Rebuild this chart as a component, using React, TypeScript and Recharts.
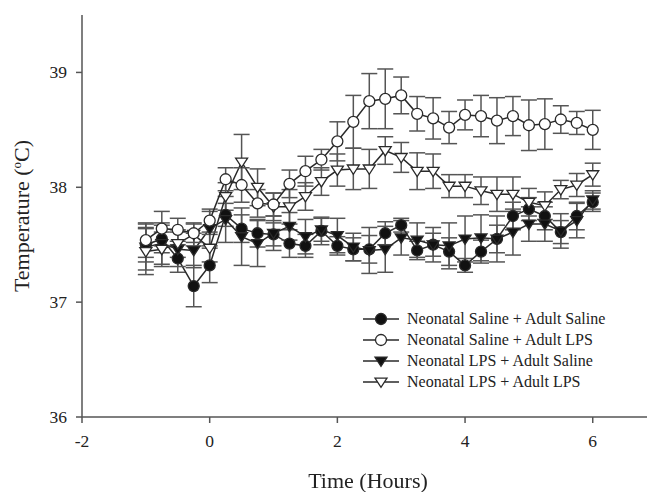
import React from 'react';
import { LineChart, Line, XAxis, YAxis, ErrorBar } from 'recharts';

const times = [-1, -0.75, -0.5, -0.25, 0, 0.25, 0.5, 0.75, 1, 1.25, 1.5, 1.75, 2, 2.25, 2.5, 2.75, 3, 3.25, 3.5, 3.75, 4, 4.25, 4.5, 4.75, 5, 5.25, 5.5, 5.75, 6];

const salSal = [37.5, 37.55, 37.38, 37.14, 37.32, 37.76, 37.64, 37.6, 37.59, 37.51, 37.49, 37.62, 37.49, 37.46, 37.46, 37.6, 37.67, 37.45, 37.5, 37.44, 37.32, 37.44, 37.55, 37.75, 37.81, 37.75, 37.61, 37.75, 37.87];
const salSalErr = [0.15, 0.12, 0.12, 0.18, 0.15, 0.1, 0.12, 0.12, 0.1, 0.12, 0.1, 0.12, 0.08, 0.1, 0.12, 0.1, 0.06, 0.08, 0.1, 0.12, 0.06, 0.1, 0.12, 0.12, 0.1, 0.12, 0.1, 0.12, 0.08];

const salLps = [37.54, 37.64, 37.63, 37.6, 37.71, 38.07, 38.02, 37.86, 37.85, 38.03, 38.14, 38.24, 38.4, 38.57, 38.75, 38.77, 38.8, 38.64, 38.6, 38.52, 38.63, 38.62, 38.58, 38.62, 38.54, 38.55, 38.59, 38.56, 38.5];
const salLpsErr = [0.15, 0.15, 0.1, 0.08, 0.1, 0.1, 0.15, 0.12, 0.1, 0.12, 0.13, 0.09, 0.17, 0.23, 0.24, 0.26, 0.16, 0.15, 0.18, 0.14, 0.13, 0.18, 0.2, 0.17, 0.22, 0.22, 0.12, 0.1, 0.17];

const lpsSal = [37.48, 37.51, 37.46, 37.45, 37.64, 37.72, 37.57, 37.51, 37.6, 37.66, 37.57, 37.63, 37.58, 37.48, 37.45, 37.46, 37.56, 37.54, 37.5, 37.49, 37.55, 37.56, 37.55, 37.61, 37.68, 37.68, 37.62, 37.71, 37.89];
const lpsSalErr = [0.2, 0.18, 0.15, 0.15, 0.15, 0.2, 0.25, 0.2, 0.15, 0.12, 0.15, 0.1, 0.15, 0.12, 0.2, 0.2, 0.15, 0.15, 0.15, 0.2, 0.2, 0.2, 0.2, 0.2, 0.15, 0.15, 0.15, 0.15, 0.08];

const lpsLps = [37.44, 37.46, 37.51, 37.59, 37.47, 37.92, 38.22, 38.0, 37.83, 37.83, 37.92, 38.05, 38.15, 38.16, 38.16, 38.32, 38.26, 38.14, 38.14, 38.01, 38.01, 37.97, 37.94, 37.94, 37.87, 37.84, 37.98, 38.02, 38.11];
const lpsLpsErr = [0.2, 0.15, 0.12, 0.1, 0.12, 0.12, 0.24, 0.16, 0.12, 0.15, 0.12, 0.12, 0.14, 0.18, 0.17, 0.12, 0.13, 0.16, 0.15, 0.1, 0.1, 0.12, 0.15, 0.15, 0.12, 0.12, 0.08, 0.1, 0.1];

const xTicks = [-2, 0, 2, 4, 6];
const yTicks = [36, 37, 38, 39];

const seriesNames = [
  'Neonatal Saline + Adult Saline',
  'Neonatal Saline + Adult LPS',
  'Neonatal LPS + Adult Saline',
  'Neonatal LPS + Adult LPS',
];

const data = times.map((t, i) => ({
  t,
  salSal: salSal[i],
  salSalErr: salSalErr[i],
  salLps: salLps[i],
  salLpsErr: salLpsErr[i],
  lpsSal: lpsSal[i],
  lpsSalErr: lpsSalErr[i],
  lpsLps: lpsLps[i],
  lpsLpsErr: lpsLpsErr[i],
}));

const LINE = '#2a2a2a';
const BAR = '#555';
const FONT = '"Liberation Serif", "DejaVu Serif", serif';

type Kind = 'circle' | 'tri';

const Marker = ({ cx, cy, kind, filled }: { cx: number; cy: number; kind: Kind; filled: boolean }) => {
  const fill = filled ? '#111' : '#fff';
  if (kind === 'circle') {
    return <circle cx={cx} cy={cy} r={5.5} fill={fill} stroke={LINE} strokeWidth={1.3} />;
  }
  const s = 6;
  const pts = `${cx - s},${cy - s * 0.65} ${cx + s},${cy - s * 0.65} ${cx},${cy + s * 0.9}`;
  return <polygon points={pts} fill={fill} stroke={LINE} strokeWidth={1.3} />;
};

const makeDot = (kind: Kind, filled: boolean) => (props: any) => (
  <g key={`${kind}-${filled}-${props.index}`}>
    <Marker cx={props.cx} cy={props.cy} kind={kind} filled={filled} />
  </g>
);

const legendItems: { kind: Kind; filled: boolean }[] = [
  { kind: 'circle', filled: true },
  { kind: 'circle', filled: false },
  { kind: 'tri', filled: true },
  { kind: 'tri', filled: false },
];

const XTick = (props: any) => (
  <text x={props.x} y={props.y + 22} textAnchor="middle" fontFamily={FONT} fontSize={17.5} fill="#222">
    {props.payload.value}
  </text>
);

const YTick = (props: any) => (
  <text x={props.x - 7} y={props.y + 6} textAnchor="end" fontFamily={FONT} fontSize={17.5} fill="#222">
    {props.payload.value}
  </text>
);

export default function App() {
  return (
    <div style={{ position: 'fixed', left: 0, top: 0, width: 647, height: 492, background: '#fff' }}>
      <LineChart
        width={647}
        height={492}
        data={data}
        margin={{ top: 15, right: 0, bottom: 0, left: 0 }}
        style={{ fontFamily: FONT }}
      >
        <XAxis
          dataKey="t"
          type="number"
          domain={[-2, 6.85]}
          ticks={xTicks}
          allowDataOverflow
          height={75}
          tickSize={6}
          stroke="#555"
          strokeWidth={1.5}
          tick={<XTick />}
        />
        <YAxis
          type="number"
          domain={[36, 39.5]}
          ticks={yTicks}
          allowDataOverflow
          width={82}
          tickSize={6}
          stroke="#555"
          strokeWidth={1.5}
          tick={<YTick />}
        />
        <Line
          dataKey="salSal"
          name={seriesNames[0]}
          stroke={LINE}
          strokeWidth={1.5}
          dot={makeDot('circle', true)}
          isAnimationActive={false}
        >
          <ErrorBar dataKey="salSalErr" width={8} stroke={BAR} strokeWidth={1.5} direction="y" />
        </Line>
        <Line
          dataKey="lpsSal"
          name={seriesNames[2]}
          stroke={LINE}
          strokeWidth={1.5}
          dot={makeDot('tri', true)}
          isAnimationActive={false}
        >
          <ErrorBar dataKey="lpsSalErr" width={8} stroke={BAR} strokeWidth={1.5} direction="y" />
        </Line>
        <Line
          dataKey="lpsLps"
          name={seriesNames[3]}
          stroke={LINE}
          strokeWidth={1.5}
          dot={makeDot('tri', false)}
          isAnimationActive={false}
        >
          <ErrorBar dataKey="lpsLpsErr" width={8} stroke={BAR} strokeWidth={1.5} direction="y" />
        </Line>
        <Line
          dataKey="salLps"
          name={seriesNames[1]}
          stroke={LINE}
          strokeWidth={1.5}
          dot={makeDot('circle', false)}
          isAnimationActive={false}
        >
          <ErrorBar dataKey="salLpsErr" width={8} stroke={BAR} strokeWidth={1.5} direction="y" />
        </Line>
      </LineChart>

      <div
        style={{
          position: 'absolute',
          left: 22,
          top: 216,
          transform: 'translate(-50%, -50%) rotate(-90deg)',
          fontFamily: FONT,
          fontSize: 22,
          color: '#222',
          whiteSpace: 'nowrap',
        }}
      >
        Temperature (<sup style={{ fontSize: 13 }}>o</sup>C)
      </div>
      <div
        style={{
          position: 'absolute',
          left: 368,
          top: 481,
          transform: 'translate(-50%, -50%)',
          fontFamily: FONT,
          fontSize: 22,
          color: '#222',
          whiteSpace: 'nowrap',
        }}
      >
        Time (Hours)
      </div>

      <div style={{ position: 'absolute', left: 361, top: 309, fontFamily: FONT, fontSize: 16, color: '#222' }}>
        {legendItems.map((it, i) => (
          <div key={i} style={{ display: 'flex', alignItems: 'center', height: 20.8 }}>
            <svg width={40} height={16} style={{ marginRight: 6 }}>
              <line x1={2} y1={8} x2={38} y2={8} stroke={LINE} strokeWidth={1.5} />
              <Marker cx={20} cy={8} kind={it.kind} filled={it.filled} />
            </svg>
            <span>{seriesNames[i]}</span>
          </div>
        ))}
      </div>
    </div>
  );
}
